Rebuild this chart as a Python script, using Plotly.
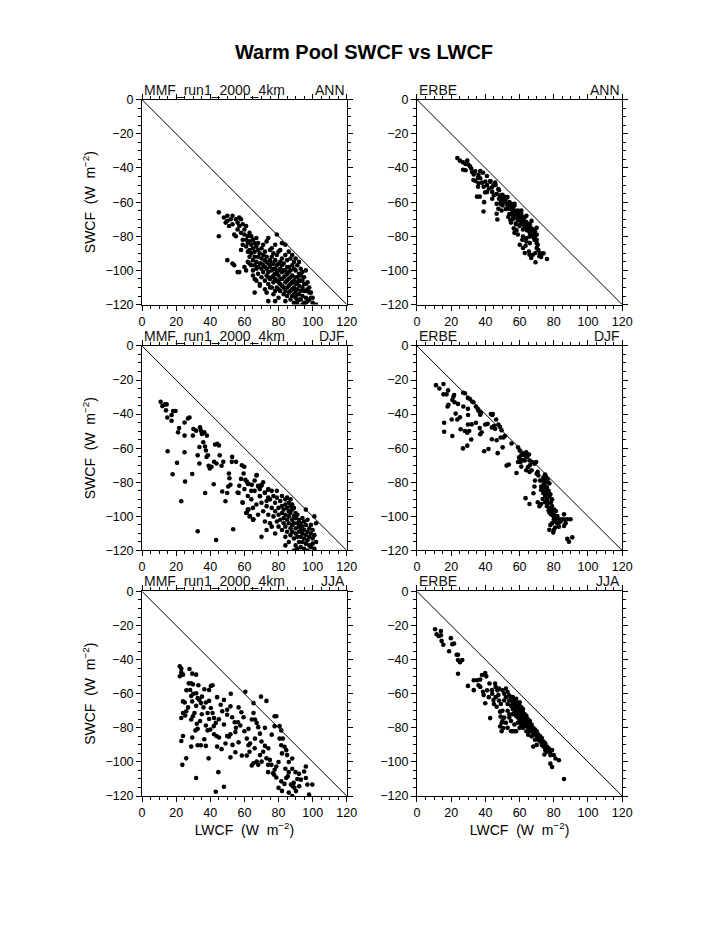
import plotly.graph_objects as go

# ---------------- data (LWCF, SWCF) pairs, W m-2 ----------------
mmf_ann = [(45,-66),(45,-80),(48,-69),(49,-72),(50,-68),(50,-71),(51,-74),(52,-70),(53,-68),(53,-73),(54,-79),(55,-70),(55,-80),(56,-72),(56,-76),(57,-69),(57,-74),(58,-70),(58,-78),(59,-73),(59,-82),(60,-76),(60,-79),(50,-94),(53,-96),(54,-97),(56,-101),(57,-101),(59,-85),(58,-88),
(61,-74),(61,-82),(61,-86),(62,-80),(62,-84),(62,-89),(62,-95),(63,-78),(63,-83),(63,-88),(63,-92),(64,-85),(64,-80),(64,-90),(64,-97),(65,-82),(65,-87),(65,-94),(65,-100),(66,-84),(66,-89),(66,-92),(66,-105),(67,-86),(67,-81),(67,-95),(67,-99),(68,-88),(68,-92),(68,-84),(68,-102),(69,-90),(69,-96),(69,-108),(70,-87),(70,-93),(70,-99),(70,-104),
(71,-85),(71,-91),(71,-97),(71,-101),(72,-89),(72,-94),(72,-106),(72,-111),(73,-83),(73,-92),(73,-99),(73,-103),(74,-81),(74,-96),(74,-101),(74,-108),(74,-118),(75,-88),(75,-94),(75,-98),(75,-105),(76,-87),(76,-92),(76,-100),(76,-110),(77,-90),(77,-96),(77,-103),(77,-107),(77,-114),(78,-85),(78,-94),(78,-99),(78,-105),(79,-79),(79,-91),(79,-101),(79,-110),(80,-89),(80,-96),(80,-103),(80,-107),(80,-116),
(81,-88),(81,-99),(81,-105),(81,-112),(82,-84),(82,-93),(82,-101),(82,-109),(83,-96),(83,-104),(83,-114),(84,-85),(84,-91),(84,-100),(84,-107),(84,-118),(85,-94),(85,-102),(85,-110),(86,-89),(86,-98),(86,-105),(86,-113),(87,-93),(87,-100),(87,-108),(87,-117),(88,-91),(88,-97),(88,-103),(88,-111),(89,-95),(89,-106),(89,-114),(89,-119),(90,-93),(90,-100),(90,-108),(90,-116),
(91,-97),(91,-104),(91,-111),(91,-118),(92,-95),(92,-102),(92,-109),(92,-114),(93,-99),(93,-106),(93,-117),(94,-101),(94,-110),(94,-115),(95,-104),(95,-108),(95,-119),(96,-100),(96,-112),(96,-116),(97,-107),(97,-118),(98,-113),(98,-110),(99,-116),(100,-119),(102,-120),
(66,-97),(68,-98),(70,-96),(72,-98),(73,-95),(74,-104),(75,-110),(76,-104),(76,-96),(77,-99),(78,-102),(78,-112),(79,-97),(79,-106),(80,-100),(80,-111),(81,-95),(81,-108),(82,-97),(82,-105),(83,-100),(83,-110),(84,-103),(84,-112),(85,-98),(85,-106),(85,-115),(86,-101),(86,-109),(87,-104),(87,-112),(88,-107),(88,-115),(89,-99),(89,-110),(90,-104),(90,-112),(91,-107),(91,-114),(92,-106),(92,-117),(93,-103),(93,-112),(94,-106),(95,-112),(96,-108),(97,-111),(98,-117),(99,-113),(100,-116),
(61,-100),(65,-103),(67,-106),(66,-113),(69,-109),(73,-113),(78,-118),(91,-120),(94,-120),(96,-119),(60,-98),(63,-96)]

erbe_ann = [(23.6,-34.2),(25.1,-35.7),(26.9,-36.7),(28.4,-37.6),(29.4,-35.7),(28.4,-41.3),(31.7,-40.3),(32.2,-42.4),(33.2,-43.8),(34.2,-47.6),(35.7,-45.7),(37,-41.8),(38.6,-42.8),(38,-48.6),(35.7,-51),(35.1,-56.8),(36.7,-56.8),(39.9,-54.3),(39.3,-60),(38.9,-65.5),(40.9,-44.7),(42.8,-47.6),(43.8,-51.4),(44.7,-50.1),(45.7,-48.6),(46.6,-55.3),(47.6,-52.4),(48.6,-56.2),(46.6,-61),(47.6,-63.9),(46.6,-66.8),(47,-70.2),(49.5,-64.9),(48.9,-61),(49.9,-55.7),(50.9,-56.8),(51.4,-59.1),(52.8,-61),(53.9,-63.9),(55.3,-66.8),(54.3,-62.1),(53.4,-68.7),(54.7,-70.6),(56.2,-68.7),(57.2,-64.9),(57.8,-72.6),(56.6,-75.4),(58.2,-76.4),(59.1,-70.6),(60.1,-66.8),(60.5,-72.9),(61.6,-68.7),(62.4,-71.6),(63,-74.5),(63.9,-71.6),(64.3,-76.4),(65.5,-74.5),(65.8,-77.4),(66.8,-75.4),(67.8,-78.3),(68.7,-81.2),(68.1,-76.4),(65.8,-80.2),(63.9,-81.2),(62,-80.2),(61.6,-82.1),(60.1,-85),(63.5,-85.6),(65.5,-88.9),(62,-86.9),(63,-89.8),(65.8,-90.8),(66.8,-92.7),(67.8,-90.8),(69.3,-89.8),(69.3,-95.2),(70,-86.9),(70.6,-85),(71.6,-91.7),(72.6,-92.1),(76,-93.3),(70,-84.1),(68.7,-82.1),
(50,-58),(51,-60),(52,-58),(53,-62),(54,-60),(55,-64),(55,-61),(56,-66),(56,-63),(57,-67),(57,-62),(58,-66),(58,-69),(59,-68),(59,-65),(60,-70),(60,-69),(61,-71),(61,-67),(62,-70),(62,-73),(63,-72),(63,-69),(64,-74),(64,-72),(65,-73),(65,-76),(66,-78),(66,-73),(67,-77),(67,-80),(68,-79),(68,-76),(69,-80),(69,-77),(70,-79),(62,-76),(60,-74),(58,-73),(56,-70),(54,-67),(52,-64),(50,-62),(48,-58),(44,-54),(42,-52),(41,-50),(37,-46),(34,-42),(31,-39),(36,-44),(40,-48),(39,-51),(45,-56),(46,-50),(43,-48),(48,-53),(53,-57),(57,-61),(61,-65),(64,-68),(67,-71),(70,-75),(71,-88),(72,-90),(74,-90),(70,-82),(66,-84),(64,-83),(59,-79),(57,-78),(55,-72),(30,-38),(27,-41),(33,-47),(36,-49),(41,-54),(44,-58),(49,-60)]

mmf_djf = [(10.9,-32.8),(11.9,-35.3),(13.4,-34.3),(14.4,-34.3),(14,-37.8),(14.8,-42),(17.3,-40.5),(18.2,-38.2),(19.6,-38.2),(17.3,-43.9),(15,-61.8),(20.5,-68.6),(17.9,-75.3),(21.7,-48.2),(21.1,-50.7),(24.9,-52.6),(24.9,-44.9),(26.9,-42.6),(27.8,-42),(24.9,-62.4),(25.2,-79.6),(23,-91.1),(29.4,-75.1),(30.1,-48.7),(31.7,-49.7),(29.8,-52.6),(34,-47.8),(34.5,-49.7),(35.1,-51.6),(36.5,-50.7),(38,-52.6),(32.6,-64.2),(33.6,-59.3),(35.9,-56.5),(36.9,-59),(37.4,-61.3),(33.6,-69),(32.6,-108.7),(37.8,-65.1),(39,-70.3),(39.7,-71.9),(38.6,-64.2),(40.7,-70.9),(42.2,-67.9),(43.6,-69),(42.8,-57.8),(44.1,-57.4),(45.1,-58.4),(45.5,-64.2),(46.6,-70.3),(47.6,-67.9),(42,-81.1),(37,-86.3),(43.4,-113.9),(52.8,-65.1),(55.1,-68),(52.6,-68),(50.9,-74.8),(51.2,-77.6),(51.8,-81.5),(50.5,-82.5),(49.9,-86.3),(47,-85.4),(48.9,-91.1),(53.4,-107.5),(58.5,-70),(59.9,-70.9),(59.5,-74.8),(60.5,-78.6),(61.4,-79.6),(62.4,-80.9),(64.3,-81.5),(56.6,-86.3),(58.9,-91.7),(61.4,-97.9),(62.4,-95.9),(63.3,-99.8),(65.3,-101.7),(67.2,-75.7),(68.1,-82.5),(69.1,-88.2),(70,-81.5),(72,-86.3),(73.9,-84.4),(73.9,-89.2),
(75,-90),(76,-95),(77,-88),(77,-100),(78,-92),(78,-97),(79,-103),(79,-89),(80,-95),(80,-99),(80,-106),(81,-91),(81,-102),(82,-88),(82,-94),(82,-98),(82,-108),(83,-96),(83,-101),(83,-104),(84,-90),(84,-93),(84,-99),(84,-106),(84,-112),(85,-89),(85,-95),(85,-102),(85,-109),(86,-92),(86,-97),(86,-100),(86,-104),(86,-115),(87,-90),(87,-94),(87,-98),(87,-107),(87,-111),(88,-93),(88,-96),(88,-102),(88,-105),(88,-109),(89,-95),(89,-100),(89,-104),(89,-113),(90,-98),(90,-101),(90,-107),(90,-110),(90,-117),(91,-99),(91,-104),(91,-112),(92,-102),(92,-106),(92,-109),(92,-115),(93,-104),(93,-108),(93,-112),(93,-118),(94,-101),(94,-106),(94,-110),(94,-115),(95,-103),(95,-108),(95,-113),(95,-119),(96,-96),(96,-105),(96,-111),(96,-116),(97,-102),(97,-109),(97,-114),(97,-120),(98,-107),(98,-112),(98,-117),(99,-105),(99,-110),(99,-118),(100,-108),(100,-113),(100,-116),(101,-100),(101,-111),(101,-119),(102,-104),(102,-115),(89,-120),(91,-119),(84,-117),
(56,-86),(59,-92),(61,-98),(62,-96),(63,-100),(65,-102),(67,-76),(68,-82),(69,-88),(70,-82),(72,-86),(74,-84),(74,-89),(66,-85),(64,-90),(62,-88),(60,-84),(58,-78),(57,-82),(65,-95),(67,-93),(68,-99),(70,-92),(71,-97),(72,-103),(73,-94),(74,-99),(75,-104),(76,-85),(73,-108),(70,-112),(62,-81),(64,-85),(66,-79),(69,-84),(71,-80),(76,-106),(78,-110),(73,-91),(79,-85)]

erbe_djf = [(11.1,-23),(13.1,-25),(15.5,-22.3),(15.5,-28.4),(17.3,-28.4),(18.2,-26.1),(18.4,-34.5),(17.9,-35.5),(20.7,-31.7),(21.3,-29.8),(21.7,-28.8),(15.9,-45.1),(15.9,-50.3),(20.3,-43.2),(22.6,-39.7),(23.6,-43.2),(25.1,-41.8),(20.7,-52.8),(25.5,-48.9),(28,-49.9),(29.4,-50.9),(30.5,-49.9),(26.9,-60.1),(29.4,-58.5),(27,-27.5),(28,-27.8),(27.1,-35.5),(29.8,-36.9),(29.8,-30.5),(30.9,-31.1),(32.2,-32.6),(29.9,-40.5),(29.8,-46.1),(31.7,-54.9),(34.5,-35.5),(35.5,-36.9),(34.5,-45.1),(37,-40.3),(37.4,-39.3),(36.7,-48.2),(37.8,-50.6),(37,-51.8),(39.3,-61.8),(39.9,-46.1),(41.3,-45.7),(41.8,-60.5),(43.2,-39.9),(44.3,-39.9),(43.8,-47.8),(45.7,-48.6),(46.3,-43.2),(43.8,-54.7),(46.6,-55.3),(47.2,-62.9),(47.6,-46.1),(48.6,-47.6),(49.5,-49.5),(48.9,-53.7),(50.5,-53.7),(51.4,-52.8),(50.1,-59.5),(52.4,-70.2),(53.7,-69.6),(55.3,-57.2),(58.2,-74.5),(59.1,-59.5),(60.1,-61.4),(59.7,-65.3),(60.5,-68.1),(59.1,-68.1),(61,-70.8),(62,-63),(63,-64.3),(63.9,-62.4),(64.3,-65.1),(65.5,-63.7),(63,-67.2),(65.8,-67.2),(64.9,-71),(63.9,-72.9),(65.8,-73.9),(63.5,-89.3),(65.8,-92.7),(67.4,-68.1),(68.7,-69.1),(69.7,-68.1),(70.6,-73.9),(68.7,-82.5),(68.1,-86.4),(70.6,-91.7),(71.6,-94),(72.6,-92.7),(72.6,-82.5),(72.6,-84.5),(73.5,-78.7),(74.1,-81),(73.9,-86.4),(74.9,-75.4),(75.4,-76.8),(75,-82.5),(75.4,-85.4),(73.5,-89.8),(74.9,-91.7),(76,-94),(77,-96.4),(77.4,-97.5),(78.3,-98.8),
(76.4,-78.3),(77.4,-80.6),(76.4,-86.4),(77.4,-88.3),(78.3,-91.7),(78.9,-94),(80.2,-96),(79.7,-99.8),(81.2,-96.9),(82.1,-99.8),(83.1,-103.6),(83.1,-101.7),(85,-101.7),(86,-98.8),(87.9,-101.7),(86.9,-104),(86,-105.6),(77.4,-107.9),(79.7,-109.4),(80.8,-106.5),(87.9,-113.2),(88.9,-114.8),(90.8,-112.3),(89.8,-101.7),(86.6,-101.9),
(74,-77),(75,-79),(76,-80),(75,-88),(76,-83),(77,-85),(74,-84),(76,-90),(77,-92),(78,-87),(79,-90),(78,-95),(79,-97),(80,-99),(80,-102),(81,-103),(82,-104),(81,-101),(83,-106),(84,-103),(79,-104),(78,-105),(80,-108),(60,-66),(61,-64),(62,-67),(66,-70),(67,-73),(70,-75),(71,-76),(72,-79),(69,-79),(44,-40.5),(45,-47),(36,-38),(33,-33),(32,-46),(24,-34),(22,-33)]

mmf_jja = [(22.1,-43.9),(23,-45.3),(22.1,-49.7),(23,-47.4),(24,-48.8),(27.8,-45.5),(29.4,-48.2),(31.7,-48.8),(27.4,-53.9),(28.8,-53.9),(29.8,-54.5),(24,-64.5),(25,-65.1),(24,-71.3),(25.9,-70.3),(23,-74.2),(25.3,-72.8),(23,-87.7),(24,-84.8),(23.6,-101.7),(25.9,-97.9),(28.2,-57.8),(28.8,-61.3),(29.4,-64.5),(28.8,-75.1),(29.8,-73.2),(30.7,-71.3),(29.4,-85.7),(28.8,-91),(31.7,-59.7),(32.6,-62.6),(31.7,-67.1),(33.6,-63.6),(34.5,-65.5),(35.1,-61.7),(31.3,-81.5),(32.6,-80.5),(32.1,-77.6),(32.6,-90.2),(34.5,-90.2),(31.7,-109.4),(36.5,-57.4),(39.3,-57.8),(40.3,-55.5),(41.3,-55),(37.4,-65.1),(39.3,-64.2),(38.4,-71.3),(39.3,-74.8),(40.3,-68.4),(41.3,-71.3),(37.4,-78.6),(38.4,-81.5),(36.5,-86.7),(37.4,-90.6),(39,-97.9),(42.2,-74.2),(43.2,-77.1),(42.2,-83.8),(43.6,-84.8),(45.1,-85.7),(44.7,-106),(43.2,-117.5),(48,-114.6),(46.1,-66.5),(48,-63.6),(47,-70.3),(49.9,-72.3),(49.9,-69.4),(46.6,-92.5),(48.9,-89.2),(49.9,-84.8),(50.9,-85.2),(51.8,-83.8),
(51.8,-67.4),(52.8,-73.8),(54.3,-76.7),(54.7,-82.5),(56.6,-68),(56.2,-76.7),(57.6,-78.6),(58.2,-70.9),(51.8,-97.3),(54.7,-94.3),(56.6,-88.5),(60.5,-58.8),(59.5,-73.8),(62.4,-80.6),(61.4,-86.3),(62.4,-90.2),(63.3,-89.2),(58.5,-96.3),(61.4,-96.3),(65.3,-65.5),(65.3,-71.3),(66.2,-75.1),(64.3,-75.1),(67.2,-77.1),(68.1,-79.6),(69.1,-83.4),(66.2,-86.3),(64.3,-102.1),(65.3,-100.8),(67.2,-99.8),(68.1,-101.7),(69.1,-96),(69.7,-61.7),(72.9,-64.2),
(72,-90.6),(71,-94),(72.9,-97.9),(70.1,-99.8),(73.9,-101.7),(75.8,-101.7),(74.9,-98.8),(73.9,-106),(76.8,-106.6),(77.7,-104.6),(78.7,-102.7),(77.7,-73.2),(78.7,-73.2),(77.7,-79),(80.6,-79),(81.6,-81.5),(80.6,-86.3),(82.5,-86.3),(81.6,-90.2),(83.5,-91.1),(84.5,-93.1),
(77.4,-107.5),(78.7,-109.1),(80,-115.2),(81.6,-111.4),(83.5,-112.9),(84.5,-109.4),(85.4,-108.5),(87.3,-113.3),(88.3,-114.3),(88.9,-112.3),(89.3,-115.2),(90.2,-117.1),(92.1,-114.3),(93.1,-110.4),(95,-105.6),(96,-102.7),(96,-109.4),(96.9,-113.3),(97.9,-119.1),(99.8,-113.3),
(84,-104),(86,-100),(88,-104),(90,-106),(91,-110),(86,-118),(88,-120),(82,-117),(85,-96),(88,-98),(76,-84),(72,-80),(74,-92),(70,-88),(66,-92),(63,-94),(55,-80),(53,-90),(60,-82),(44,-62),(42,-79),(45,-75),(48,-78),(52,-60),(35,-72),(34,-76),(26,-58),(27,-68),(30,-60),(33,-55),(36,-68),(40,-81),(44,-91),(80,-100),(82,-95),(86,-106),(92,-107)]

erbe_jja = [(10.6,-22.2),(11.5,-25.1),(12.7,-26.1),(14,-23.2),(14,-25.7),(14.4,-29),(15.4,-31.3),(18.8,-35.1),(19.8,-27.4),(20.7,-30.9),(21.7,-30.5),(23.2,-37.1),(24,-37.1),(24,-40.2),(25.1,-41.5),(26.5,-40.2),(24,-48.3),
(29.8,-55.4),(33.2,-57.9),(33.2,-52.1),(35.1,-52.1),(37,-51.7),(37,-56),(38.6,-58.9),(39.9,-65.6),(39,-60.8),(39.9,-47.9),(40.5,-49.8),(42.8,-74.3),(42.4,-54),(43.8,-57.9),(44.7,-63.7),(45.7,-54),(46.6,-67.6),(47.6,-60.8),(48.6,-70.5),(48.9,-73.4),(49.5,-77.2),(48.6,-79.2),(49.5,-82),(50.5,-80.1),
(50,-58),(51,-60),(51,-64),(52,-57),(52,-62),(53,-59),(53,-66),(53,-70),(54,-61),(54,-64),(54,-74),(55,-63),(55,-67),(55,-76),(56,-62),(56,-65),(56,-69),(56,-72),(56,-82),(57,-64),(57,-66),(57,-68),(57,-71),(57,-78),(58,-63),(58,-65),(58,-67),(58,-70),(58,-73),(58,-82),(59,-66),(59,-68),(59,-71),(59,-74),(59,-77),(60,-65),(60,-67),(60,-69),(60,-72),(60,-76),(60,-80),(61,-68),(61,-70),(61,-73),(61,-75),(61,-78),(62,-69),(62,-71),(62,-74),(62,-77),(62,-80),(63,-72),(63,-74),(63,-76),(63,-79),(64,-73),(64,-76),(64,-78),(64,-82),(65,-75),(65,-77),(65,-80),(65,-84),(66,-76),(66,-79),(66,-82),(67,-78),(67,-81),(67,-85),(68,-80),(68,-83),(68,-91),(69,-81),(69,-84),(69,-87),(70,-82),(70,-85),(70,-90),(71,-84),(71,-87),(72,-85),(72,-88),(73,-86),(73,-90),(74,-88),(74,-91),(75,-89),(75,-93),(76,-91),(76,-94),(77,-92),(78,-94),(78,-96),(79,-93),(80,-96),(81,-98),(83,-99),(78,-101),(79,-103),(86,-110),(74.5,-95.6),
(44,-60),(46,-62),(47,-58),(48,-64),(49,-66),(45,-66),(50,-70),(51,-74),(52,-77),(53,-80),(55,-82),(57,-82),(54,-72),(50,-76),(48,-57),(46,-56),(38,-49),(36,-55),(41,-58),(42,-62)]

panels = [("MMF_run1_2000_4km", "ANN", mmf_ann), ("ERBE", "ANN", erbe_ann),
          ("MMF_run1_2000_4km", "DJF", mmf_djf), ("ERBE", "DJF", erbe_djf),
          ("MMF_run1_2000_4km", "JJA", mmf_jja), ("ERBE", "JJA", erbe_jja)]

x_ticks = [0, 20, 40, 60, 80, 100, 120]
y_ticks = [0, -20, -40, -60, -80, -100, -120]
ref_line_x = [0, 120]
ref_line_y = [0, -120]

# The page body has an 8 px default margin; lay the figure out in page pixels minus that offset.
OFF = 8
W, H = 723 - OFF, 935 - OFF
col_px = [(141.5 - OFF, 350.0 - OFF), (421.5 - OFF, 630.5 - OFF)]
row_px = [(94.0 - OFF, 302.0 - OFF), (344.0 - OFF, 551.7 - OFF), (593.3 - OFF, 801.0 - OFF)]

FONT = "Liberation Sans, Arial, Helvetica, sans-serif"
fig = go.Figure()
layout = dict(width=W, height=H, autosize=False, showlegend=False,
              margin=dict(l=0, r=0, t=0, b=0),
              paper_bgcolor="white", plot_bgcolor="white",
              font=dict(family=FONT, color="black"))
annotations = []

for i, (name, season, pts) in enumerate(panels):
    k = i + 1
    r, c = divmod(i, 2)
    xd = [col_px[c][0] / W, col_px[c][1] / W]
    yd = [1 - row_px[r][1] / H, 1 - row_px[r][0] / H]
    xs = "" if k == 1 else str(k)
    fig.add_trace(go.Scatter(x=ref_line_x, y=ref_line_y, mode="lines",
                             line=dict(color="black", width=1),
                             xaxis="x" + xs, yaxis="y" + xs, hoverinfo="skip"))
    fig.add_trace(go.Scatter(x=[p[0] for p in pts], y=[p[1] for p in pts], mode="markers",
                             marker=dict(color="black", size=4.6, line=dict(width=0)),
                             xaxis="x" + xs, yaxis="y" + xs))
    common = dict(ticks="outside", ticklen=5, tickwidth=1, tickcolor="black",
                  showline=True, linecolor="black", linewidth=1, mirror="ticks",
                  showgrid=False, zeroline=False,
                  tickfont=dict(family=FONT, size=12.5, color="black"),
                  minor=dict(dtick=5, ticklen=3, tickcolor="black", ticks="outside", showgrid=False))
    xa = dict(common, domain=xd, anchor="y" + xs, range=[0, 120],
              tickmode="array", tickvals=x_ticks, ticktext=[str(v) for v in x_ticks])
    ya = dict(common, domain=yd, anchor="x" + xs, range=[-120, 0],
              tickmode="array", tickvals=y_ticks)
    if r == 2:
        xa["title"] = dict(text="LWCF  (W  m<sup>\u22122</sup>)", font=dict(family=FONT, size=14), standoff=4)
    if c == 0:
        ya["title"] = dict(text="SWCF  (W  m<sup>\u22122</sup>)", font=dict(family=FONT, size=14), standoff=6)
    layout["xaxis" + xs] = xa
    layout["yaxis" + xs] = ya
    annotations.append(dict(text=name, x=xd[0], y=yd[1], xref="paper", yref="paper",
                            xanchor="left", yanchor="bottom", showarrow=False,
                            font=dict(family=FONT, size=14, color="#111")))
    annotations.append(dict(text=season, x=xd[1], y=yd[1], xref="paper", yref="paper",
                            xanchor="right", yanchor="bottom", showarrow=False,
                            font=dict(family=FONT, size=14, color="#111")))

layout["annotations"] = annotations
layout["title"] = dict(text="<b>Warm Pool SWCF vs LWCF</b>", x=(364 - OFF) / W, xanchor="center",
                       y=1 - (52 - OFF) / H, yanchor="middle", yref="container",
                       font=dict(family=FONT, size=20, color="black"))
fig.update_layout(**layout)
fig.write_html("out.html")
